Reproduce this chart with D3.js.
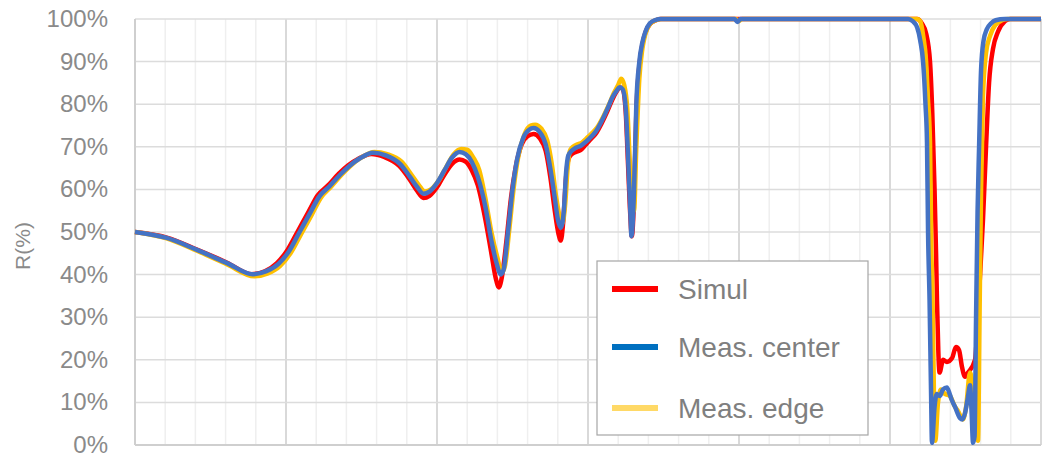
<!DOCTYPE html>
<html>
<head>
<meta charset="utf-8">
<style>
  body { margin: 0; background: #fff; }
  svg { display: block; }
</style>
</head>
<body>
<svg></svg>
<script src="https://d3js.org/d3.v7.min.js"></script>
<script>
const width = 1043;
const height = 455;

const yTicks = [0, 10, 20, 30, 40, 50, 60, 70, 80, 90, 100];
const seriesNames = ['Simul', 'Meas. center', 'Meas. edge'];

// Simul (red)
const simulX = [400, 421, 441, 461, 477, 486, 494, 501, 508, 515, 521, 528, 535, 541, 548, 556.5, 565, 575, 582, 587,
  591, 595, 600, 605, 610, 615, 619, 623, 627, 632, 636, 639, 641,
  643, 646, 649, 652, 656, 660, 664, 668, 672, 675, 678, 680.5, 682, 683.5, 685.5, 687, 689, 692, 695, 698,
  701, 705, 709, 713, 716, 719, 721, 723, 725, 726.5, 728, 729, 730.5, 732, 734, 736, 738, 741, 745, 748,
  918, 921, 924, 926.5, 928, 929.5, 930.5, 931.1, 932, 932.8, 935.2, 937.7, 941.1, 943.7, 945.7, 947.7, 949.7, 951.7, 956.3, 958.9,
  961.6, 963.6, 965.6, 968.2, 971.5, 976.2, 979.5, 1000];
const simulY = [50, 48.7, 45.9, 42.8, 40.1, 40.8, 42.7, 45.8, 50.3, 54.8, 58.6, 61, 63.7, 65.6, 67.2, 68.3, 67.6, 65.5, 62.3, 59.6,
  58, 58.5, 60.5, 63.5, 66, 67, 66.5, 64.5, 61, 53, 45, 39, 37,
  39.5, 48, 58, 65, 70.5, 72.5, 73, 72, 69, 63, 55, 49.5, 48, 52, 63, 67, 68.2, 68.8, 69.2, 70.3,
  71.5, 73, 75.5, 78.5, 81, 83, 84, 83.5, 78, 66, 54, 49, 58, 78, 89, 94, 96.8, 98.8, 99.7, 100,
  100, 99, 96.5, 90, 78, 60, 45, 34, 22, 17, 20, 19.5, 20.4, 23, 22.3, 18.3, 16, 17, 20, 35,
  53, 70, 85, 93, 97, 99.5, 100, 100];

// Meas. center (blue)
const centerX = [400, 421, 441, 461, 478, 487, 495, 502, 509, 516, 522, 529, 536, 542, 549, 557.6, 566, 575.5, 582, 587,
  591, 595, 600, 605, 610, 615, 619, 623, 627, 632, 636, 640, 642,
  644, 647, 650, 653, 657, 661, 664, 668, 672, 675, 678, 680, 682, 684, 685.5, 687, 689, 692, 695, 698,
  701, 705, 709, 713, 716, 719, 721, 723, 725, 726.5, 728, 728.8, 730.5, 732, 734, 736, 738, 741, 745, 748,
  797, 799, 801, 912, 915, 918, 920, 921.9, 923.5, 924.5, 925.2, 926.2, 927.2, 927.8, 929.5, 931, 933, 935, 937.7, 939.5,
  941, 943, 946.4, 948, 949.7, 951.5, 953, 954, 955, 956, 957, 958, 959, 960.3, 962, 964, 967, 970, 976, 1000];
const centerY = [50, 48.6, 45.8, 42.7, 40.1, 40.8, 42.5, 45.5, 50, 54.5, 58.3, 60.8, 63.5, 65.5, 67.3, 68.6, 68, 66, 63, 60.5,
  59, 59.5, 61.5, 64.5, 67.5, 68.8, 68.3, 66.5, 63, 56, 48, 42, 40,
  41, 50, 60, 67, 72, 74, 74.4, 73.5, 70.5, 65, 58, 53, 51, 55, 64, 68, 69, 69.8, 70.2, 71,
  72, 73.5, 76, 79, 81.5, 83.2, 84, 83.5, 79, 68, 55, 49, 60, 80, 90, 94.5, 97, 99, 99.8, 100,
  100, 99.3, 100, 100, 99.5, 98, 95, 90, 80, 71, 50, 34, 12, 0.5, 9, 12, 11.5, 13, 13.5, 12,
  10.5, 9, 6.3, 6, 7.5, 11, 14, 8, 0.5, 2, 30, 55, 70, 88, 95, 97.5, 99, 99.7, 100, 100];

// Meas. edge (yellow)
const edgeX = [400, 421, 441, 461, 479, 488, 496, 503, 510, 517, 523, 530, 537, 543, 550, 558.5, 567, 576.5, 583, 588,
  592, 596, 601, 606, 611, 616, 620, 624, 628, 632, 636, 640, 643,
  645, 648, 651, 654, 658, 662, 665, 669, 673, 676, 679, 681, 683, 685, 686.5, 688, 690, 693, 696, 699,
  702, 706, 710, 714, 717, 720, 722, 724, 726, 727.5, 729, 730.5, 732, 734, 736, 738, 741, 745, 749,
  798, 800, 802, 918, 920, 922, 923.9, 925, 926.5, 927.2, 928.2, 929.1, 930, 931.8, 933.8, 936.4, 939.7, 943, 945, 948.3,
  950.4, 953, 955, 957, 958.3, 959.3, 960.3, 961.6, 963.6, 966.2, 969.5, 974.2, 978.2, 1000];
const edgeY = [50, 48.5, 45.6, 42.4, 39.6, 40.3, 42, 45, 49.5, 54, 58, 60.7, 63.5, 65.6, 67.5, 68.8, 68.3, 66.5, 63.5, 61,
  59.5, 60, 62, 65.2, 68.2, 69.5, 69.3, 67.5, 64.5, 58, 50, 44, 40.5,
  42, 51, 61, 68, 73, 75, 75.2, 74.3, 71.5, 66, 58, 54, 52, 57, 65, 69, 70, 70.6, 71, 72,
  73, 74.5, 77, 80, 82.5, 84.5, 86, 84.5, 79, 68, 58, 55, 70, 86, 93, 96.5, 98.8, 99.7, 100,
  100, 99.5, 100, 100, 99.5, 96, 90, 82, 71, 50, 34, 12, 1, 10, 13, 12, 11.5, 9, 8, 6,
  9, 17, 13, 3, 1, 30, 60, 82, 92, 96, 98.5, 99.7, 100, 100];

const lineColors = ['#ff0000', '#4472c4', '#ffc000'];
const legendColors = ['#ff0000', '#0070c0', '#ffd966'];

const margin = { top: 19, right: 2, bottom: 10, left: 135 };

const svg = d3.select('svg').attr('width', width).attr('height', height);

const x = d3.scaleLinear().domain([400, 1000]).range([margin.left, width - margin.right]);
const y = d3.scaleLinear().domain([0, 100]).range([height - margin.bottom, margin.top]);

// vertical grid: minor every 20, major every 100
const grid = svg.append('g');
x.ticks(30).forEach(t => {
  const major = t % 100 === 0;
  grid.append('line')
    .attr('x1', x(t)).attr('x2', x(t))
    .attr('y1', y(0)).attr('y2', y(100))
    .attr('stroke', major ? '#d9d9d9' : '#efefef')
    .attr('stroke-width', major ? 2 : 1.5);
});

// horizontal grid
yTicks.forEach(t => {
  grid.append('line')
    .attr('x1', x(400)).attr('x2', x(1000))
    .attr('y1', y(t)).attr('y2', y(t))
    .attr('stroke', '#dcdcdc')
    .attr('stroke-width', 1.5);
});

// axes lines
svg.append('line')
  .attr('x1', x(400)).attr('x2', x(400))
  .attr('y1', y(0)).attr('y2', y(100))
  .attr('stroke', '#cfcfcf').attr('stroke-width', 2);
svg.append('line')
  .attr('x1', x(400)).attr('x2', x(1000))
  .attr('y1', y(0)).attr('y2', y(0))
  .attr('stroke', '#cfcfcf').attr('stroke-width', 2);

// y tick labels
svg.append('g').selectAll('text')
  .data(yTicks)
  .enter().append('text')
  .attr('x', 108)
  .attr('y', d => y(d))
  .attr('dy', '0.33em')
  .attr('text-anchor', 'end')
  .style('font-family', '"Liberation Sans", Arial, sans-serif')
  .style('font-size', '24px')
  .style('fill', '#8a8a8a')
  .text(d => d + '%');

svg.append('text')
  .attr('transform', 'translate(30,246) rotate(-90)')
  .attr('text-anchor', 'middle')
  .style('font-family', '"Liberation Sans", Arial, sans-serif')
  .style('font-size', '21px')
  .style('fill', '#8a8a8a')
  .text('R(%)');

// lines: red, yellow, then blue on top
const line = d3.line()
  .x(d => x(d[0]))
  .y(d => y(d[1]))
  .curve(d3.curveMonotoneX);

const series = [
  { xs: simulX, ys: simulY, color: lineColors[0] },
  { xs: edgeX, ys: edgeY, color: lineColors[2] },
  { xs: centerX, ys: centerY, color: lineColors[1] }
];

series.forEach(s => {
  svg.append('path')
    .datum(s.xs.map((v, i) => [v, s.ys[i]]))
    .attr('d', line)
    .attr('fill', 'none')
    .attr('stroke', s.color)
    .attr('stroke-width', 4.5)
    .attr('stroke-linejoin', 'round');
});

// legend
const legend = svg.append('g').attr('transform', 'translate(597,261)');
legend.append('rect')
  .attr('width', 271).attr('height', 174)
  .attr('fill', '#fff')
  .attr('stroke', '#a6a6a6')
  .attr('stroke-width', 1.2);

const rowY = [28, 86, 147];
seriesNames.forEach((name, i) => {
  legend.append('line')
    .attr('x1', 15).attr('x2', 61)
    .attr('y1', rowY[i]).attr('y2', rowY[i])
    .attr('stroke', legendColors[i])
    .attr('stroke-width', 6);
  legend.append('text')
    .attr('x', 81)
    .attr('y', rowY[i])
    .attr('dy', '0.36em')
    .style('font-family', '"Liberation Sans", Arial, sans-serif')
    .style('font-size', '28px')
    .style('fill', '#7f7f7f')
    .text(name);
});
</script>
</body>
</html>
